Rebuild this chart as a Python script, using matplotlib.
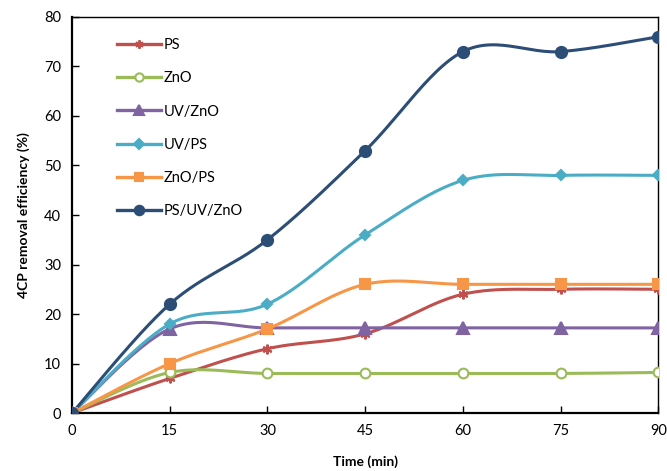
import numpy as np
import matplotlib.pyplot as plt

plt.rcParams['font.family'] = ['Lato', 'DejaVu Sans']

# data
time_min = [0, 15, 30, 45, 60, 75, 90]
ps = [0, 7, 13, 16, 24, 25, 25]
zno = [0, 8.2, 8, 8, 8, 8, 8.2]
uv_zno = [0, 17, 17.2, 17.2, 17.2, 17.2, 17.2]
uv_ps = [0, 18, 22, 36, 47, 48, 48]
zno_ps = [0, 10, 17, 26, 26, 26, 26]
ps_uv_zno = [0, 22, 35, 53, 73, 73, 76]

series = [
    ("PS", ps, "#C0504D", (6, 2, 0), "#C0504D"),
    ("ZnO", zno, "#9BBB59", "o", "white"),
    ("UV/ZnO", uv_zno, "#8064A2", "^", "#8064A2"),
    ("UV/PS", uv_ps, "#4BACC6", "D", "#4BACC6"),
    ("ZnO/PS", zno_ps, "#F79646", "s", "#F79646"),
    ("PS/UV/ZnO", ps_uv_zno, "#2C4D75", "o", "#2C4D75"),
]
marker_sizes = {"PS": 7, "ZnO": 7, "UV/ZnO": 8, "UV/PS": 5.5, "ZnO/PS": 7.5, "PS/UV/ZnO": 8}


def smooth(x, y, n=30):
    # Excel-style smoothed line: cubic Bezier through each point
    x = np.asarray(x, float)
    y = np.asarray(y, float)
    xs, ys = [], []
    for i in range(len(x) - 1):
        p0 = np.array([x[max(i - 1, 0)], y[max(i - 1, 0)]])
        p1 = np.array([x[i], y[i]])
        p2 = np.array([x[i + 1], y[i + 1]])
        p3 = np.array([x[min(i + 2, len(x) - 1)], y[min(i + 2, len(x) - 1)]])
        c1 = p1 + (p2 - p0) / 6
        c2 = p2 - (p3 - p1) / 6
        t = np.linspace(0, 1, n)[:, None]
        pts = ((1 - t) ** 3) * p1 + 3 * ((1 - t) ** 2) * t * c1 + 3 * (1 - t) * t ** 2 * c2 + t ** 3 * p2
        xs.append(pts[:, 0])
        ys.append(pts[:, 1])
    return np.concatenate(xs), np.concatenate(ys)


fig = plt.figure(figsize=(6.67, 4.71), dpi=100)
ax = fig.add_axes([0.108, 0.123, 0.879, 0.841])

handles = []
for name, vals, color, marker, face in series:
    sx, sy = smooth(time_min, vals)
    ax.plot(sx, sy, color=color, lw=2.2, zorder=2)
    ax.plot(time_min, vals, ls='none', marker=marker, ms=marker_sizes[name],
            mfc=face, mec=color, mew=1.5, zorder=3)
    h, = ax.plot([], [], color=color, lw=2.4, marker=marker, ms=marker_sizes[name] * 0.85,
                 mfc=face, mec=color, mew=1.5, label=name)
    handles.append(h)

ax.set_xlim(0, 90)
ax.set_ylim(0, 80)
ax.set_xticks(time_min)
ax.set_yticks(range(0, 81, 10))
ax.tick_params(direction='in', length=5, width=1, labelsize=10.5, pad=8)
for s in ax.spines.values():
    s.set_linewidth(1)
for s in ['left', 'bottom']:
    ax.spines[s].set_linewidth(1.6)

ax.set_xlabel('Time (min)', fontsize=10, fontweight='bold', labelpad=12)
ax.set_ylabel('4CP removal efficiency (%)', fontsize=10, fontweight='bold', labelpad=10)

ax.legend(handles=handles, loc='upper left', bbox_to_anchor=(0.055, 0.98), frameon=False,
          fontsize=10.5, numpoints=1, handlelength=3.0, handletextpad=0.2, labelspacing=1.32)

fig.savefig('out.png', dpi=100)
